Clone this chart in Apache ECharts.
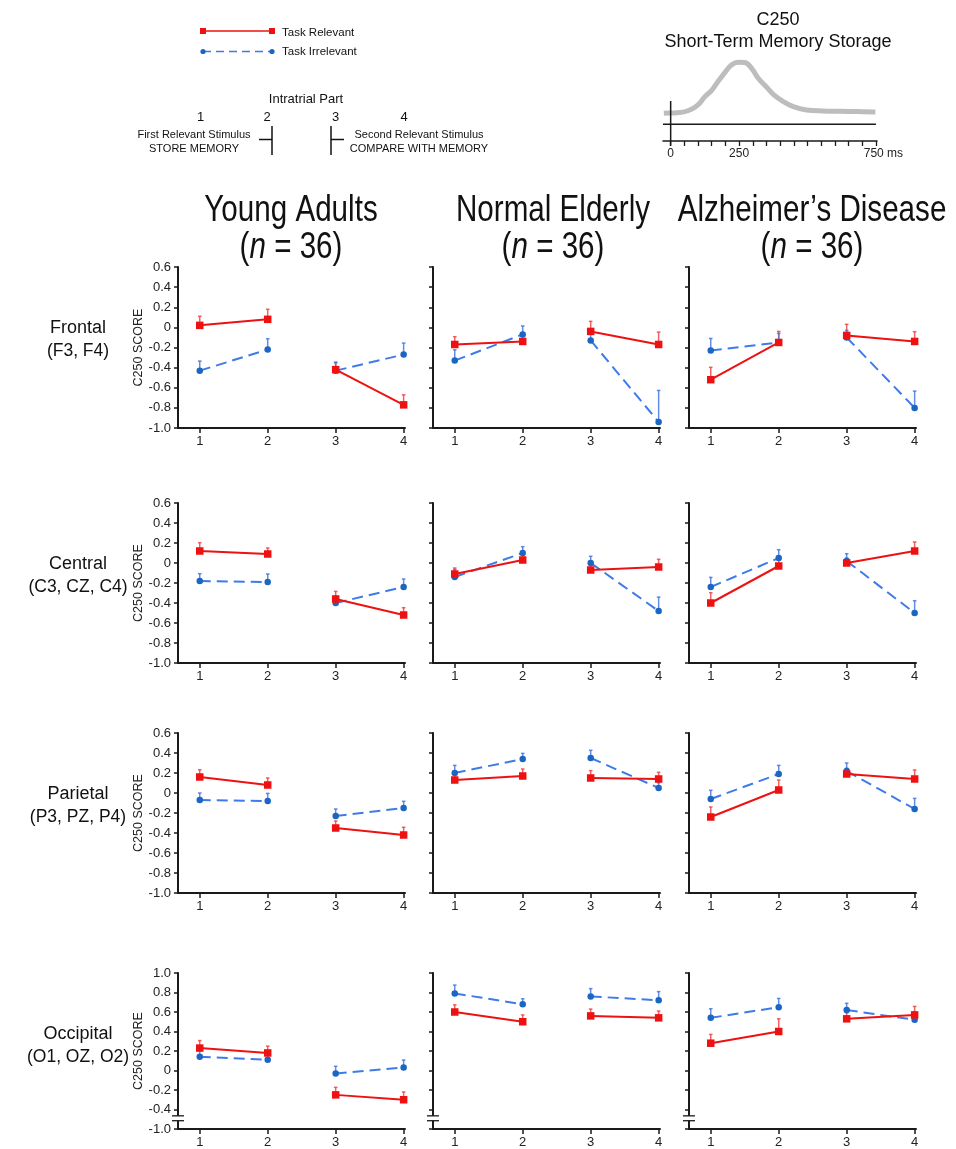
<!DOCTYPE html>
<html>
<head>
<meta charset="utf-8">
<script src="https://cdn.jsdelivr.net/npm/echarts@6/dist/echarts.min.js"></script>
<style>
html,body{margin:0;padding:0;background:#fff;}
#chart{width:956px;height:1149px;}
</style>
</head>
<body>
<div id="chart"></div>
<script>
// ---------------- DATA ----------------
const parts = [1, 2, 3, 4];
const groupNames = ['Young Adults', 'Normal Elderly', 'Alzheimer\u2019s Disease'];
const groupN = [36, 36, 36];
const regionNames = ['Frontal', 'Central', 'Parietal', 'Occipital'];
const regionSites = ['(F3, F4)', '(C3, CZ, C4)', '(P3, PZ, P4)', '(O1, OZ, O2)'];
const legendNames = ['Task Relevant', 'Task Irrelevant'];

// means per group [young, elderly, AD], each over intratrial parts 1-4
const frontalRelMean = [[0.02, 0.08, -0.42, -0.77], [-0.17, -0.14, -0.04, -0.17], [-0.52, -0.15, -0.08, -0.14]];
const frontalRelErr  = [[0.09, 0.10, 0.075, 0.10], [0.077, 0.06, 0.10, 0.123], [0.123, 0.11, 0.11, 0.097]];
const frontalIrrMean = [[-0.43, -0.22, -0.43, -0.27], [-0.33, -0.07, -0.13, -0.94], [-0.23, -0.15, -0.10, -0.80]];
const frontalIrrErr  = [[0.095, 0.107, 0.078, 0.114], [0.107, 0.084, 0.09, 0.313], [0.12, 0.09, 0.07, 0.167]];

const centralRelMean = [[0.12, 0.09, -0.36, -0.52], [-0.11, 0.03, -0.07, -0.04], [-0.40, -0.03, 0.00, 0.12]];
const centralRelErr  = [[0.083, 0.06, 0.076, 0.073], [0.06, 0.05, 0.06, 0.077], [0.103, 0.06, 0.05, 0.09]];
const centralIrrMean = [[-0.18, -0.19, -0.40, -0.24], [-0.14, 0.10, 0.00, -0.48], [-0.24, 0.05, 0.02, -0.50]];
const centralIrrErr  = [[0.073, 0.08, 0.07, 0.08], [0.074, 0.063, 0.067, 0.139], [0.096, 0.083, 0.073, 0.123]];

const parietalRelMean = [[0.16, 0.08, -0.35, -0.42], [0.13, 0.17, 0.15, 0.14], [-0.24, 0.03, 0.19, 0.14]];
const parietalRelErr  = [[0.073, 0.07, 0.07, 0.077], [0.066, 0.07, 0.074, 0.067], [0.10, 0.10, 0.057, 0.09]];
const parietalIrrMean = [[-0.07, -0.08, -0.23, -0.15], [0.20, 0.34, 0.35, 0.05], [-0.06, 0.19, 0.22, -0.16]];
const parietalIrrErr  = [[0.07, 0.076, 0.07, 0.067], [0.076, 0.056, 0.077, 0.053], [0.087, 0.086, 0.08, 0.106]];

const occipitalRelMean = [[0.23, 0.18, -0.25, -0.30], [0.60, 0.50, 0.56, 0.54], [0.28, 0.40, 0.53, 0.57]];
const occipitalRelErr  = [[0.077, 0.07, 0.077, 0.08], [0.073, 0.07, 0.07, 0.07], [0.09, 0.13, 0.063, 0.087]];
const occipitalIrrMean = [[0.14, 0.11, -0.03, 0.03], [0.79, 0.68, 0.76, 0.72], [0.54, 0.65, 0.62, 0.52]];
const occipitalIrrErr  = [[0.077, 0.06, 0.073, 0.077], [0.086, 0.056, 0.08, 0.089], [0.093, 0.089, 0.069, 0.083]];

// inset C250 waveform (time ms, amplitude arbitrary units)
const waveTimes = [-25, 0, 33, 60, 88, 106, 125, 149, 173, 198, 222, 247, 271, 296, 320, 351, 375, 412, 448, 497, 558, 619, 680, 748];
const waveAmp   = [11, 11.3, 11.7, 13.3, 17, 21, 27.7, 33.7, 42.7, 51.7, 59.3, 62, 61.7, 56, 46, 37, 30, 22.7, 17.7, 14.3, 13.3, 13, 12.7, 12.3];
const timeTicks = [0, 50, 100, 150, 200, 250, 300, 350, 400, 450, 500, 550, 600, 650, 700, 750];
const timeLabels = [0, 250, 750];
const scoreBreak = [-0.465, -0.515];

// ---------------- BUILD ----------------
const regionData = [
  [frontalRelMean, frontalRelErr, frontalIrrMean, frontalIrrErr],
  [centralRelMean, centralRelErr, centralIrrMean, centralIrrErr],
  [parietalRelMean, parietalRelErr, parietalIrrMean, parietalIrrErr],
  [occipitalRelMean, occipitalRelErr, occipitalIrrMean, occipitalIrrErr]
];

const FONT = '"Liberation Sans", Arial, Helvetica, sans-serif';
const RED = '#ee1111';
const BLUE_LINE = '#3f7be8';
const BLUE_DOT = '#1a66c2';
const RED_ERR = 'rgba(240,70,70,0.85)';
const BLUE_ERR = 'rgba(70,120,225,0.85)';

const colLeft = [178, 433, 689];
const gridW = 227;
const rowTop = [267, 503, 733, 973];
const rowH = [161, 160, 160, 160];
const XMIN = 0.68, XMAX = 4.02;
const titleCenters = [291, 553, 812];

const grids = [], xAxes = [], yAxes = [], series = [];

function fmtTick(v, occ) {
  const r = Math.round(v * 10) / 10;
  if (occ && r <= -0.6) return '-1.0';
  if (r === 0) return '0';
  return r.toFixed(1);
}

let gi = 0;
for (let r = 0; r < 4; r++) {
  const occ = r === 3;
  for (let c = 0; c < 3; c++) {
    grids.push({ left: colLeft[c], top: rowTop[r], width: gridW, height: rowH[r] });
    xAxes.push({
      gridIndex: gi, type: 'value', min: XMIN, max: XMAX,
      axisLine: { onZero: false, lineStyle: { color: '#1a1a1a', width: 2 } },
      axisTick: { show: true, customValues: parts, length: 5, lineStyle: { color: '#1a1a1a', width: 1.5 } },
      axisLabel: { customValues: parts, fontSize: 13, fontFamily: FONT, color: '#222', margin: 7 },
      splitLine: { show: false }
    });
    yAxes.push({
      gridIndex: gi, type: 'value',
      min: occ ? -0.6 : -1.0, max: occ ? 1.0 : 0.6, interval: 0.2,
      name: c === 0 ? 'C250 SCORE' : '', nameLocation: 'middle', nameGap: 33,
      nameTextStyle: { fontSize: 12.5, fontFamily: FONT, color: '#222' },
      axisLine: { show: true, onZero: false, lineStyle: { color: '#1a1a1a', width: 2 } },
      axisTick: { show: true, length: 4, lineStyle: { color: '#1a1a1a', width: 1.5 } },
      axisLabel: { show: c === 0, fontSize: 13, fontFamily: FONT, color: '#222', margin: 7,
        formatter: v => fmtTick(v, occ) },
      splitLine: { show: false }
    });
    const [rm, re, im, ie] = regionData[r];
    // error bars
    const ebData = [];
    parts.forEach((p, k) => {
      ebData.push([p, rm[c][k], re[c][k], 0]);
      ebData.push([p, im[c][k], ie[c][k], 1]);
    });
    series.push({
      type: 'custom', xAxisIndex: gi, yAxisIndex: gi, z: 2, silent: true,
      encode: { x: 0, y: 1 },
      data: ebData,
      renderItem: (params, api) => {
        const x = api.value(0), m = api.value(1), e = api.value(2), k = api.value(3);
        const p0 = api.coord([x, m]);
        const p1 = api.coord([x, m + e]);
        const col = k === 0 ? RED_ERR : BLUE_ERR;
        return { type: 'group', children: [
          { type: 'line', shape: { x1: p0[0], y1: p0[1], x2: p1[0], y2: p1[1] }, style: { stroke: col, lineWidth: 1.5 } },
          { type: 'line', shape: { x1: p1[0] - 1.8, y1: p1[1], x2: p1[0] + 1.8, y2: p1[1] }, style: { stroke: col, lineWidth: 1.5 } }
        ] };
      }
    });
    // lines: segments 1-2 and 3-4
    [[0, 1], [2, 3]].forEach(seg => {
      series.push({
        type: 'line', name: legendNames[1], xAxisIndex: gi, yAxisIndex: gi, z: 3,
        data: seg.map(k => [parts[k], im[c][k]]),
        symbol: 'circle', symbolSize: 6.5, showSymbol: true,
        itemStyle: { color: BLUE_DOT },
        lineStyle: { color: BLUE_LINE, width: 2, type: [11, 6] },
        animation: false, silent: true
      });
      series.push({
        type: 'line', name: legendNames[0], xAxisIndex: gi, yAxisIndex: gi, z: 4,
        data: seg.map(k => [parts[k], rm[c][k]]),
        symbol: 'rect', symbolSize: 7.5, showSymbol: true,
        itemStyle: { color: RED },
        lineStyle: { color: RED, width: 2 },
        animation: false, silent: true
      });
    });
    if (occ) {
      series.push({
        type: 'custom', xAxisIndex: gi, yAxisIndex: gi, z: 6, silent: true,
        encode: { x: 0, y: 1 },
        data: [[XMIN, scoreBreak[0], scoreBreak[1]]],
        renderItem: (params, api) => {
          const a = api.coord([api.value(0), api.value(1)]);
          const b = api.coord([api.value(0), api.value(2)]);
          return { type: 'group', children: [
            { type: 'rect', shape: { x: a[0] - 2, y: a[1], width: 4, height: b[1] - a[1] }, style: { fill: '#fff' } },
            { type: 'line', shape: { x1: a[0] - 6, y1: a[1], x2: a[0] + 6, y2: a[1] }, style: { stroke: '#1a1a1a', lineWidth: 1.3 } },
            { type: 'line', shape: { x1: b[0] - 6, y1: b[1], x2: b[0] + 6, y2: b[1] }, style: { stroke: '#1a1a1a', lineWidth: 1.3 } }
          ] };
        }
      });
    }
    gi++;
  }
}

// inset waveform grid
const insetIdx = gi;
grids.push({ left: 663, top: 41, width: 214, height: 100 });
xAxes.push({
  gridIndex: insetIdx, type: 'value', min: -28, max: 754,
  axisLine: { onZero: false, lineStyle: { color: '#1a1a1a', width: 1.5 } },
  axisTick: { show: true, customValues: timeTicks, length: 5, lineStyle: { color: '#1a1a1a', width: 1.3 } },
  axisLabel: {
    customValues: timeLabels, fontSize: 12, fontFamily: FONT, color: '#222', margin: 7,
    formatter: v => v === 750 ? '{r|750 ms}' : String(v),
    rich: { r: { fontSize: 12, fontFamily: FONT, color: '#222', padding: [0, 0, 0, 15] } }
  },
  splitLine: { show: false }
});
yAxes.push({ gridIndex: insetIdx, type: 'value', min: -16.7, max: 83.3, show: false });
series.push({
  type: 'line', xAxisIndex: insetIdx, yAxisIndex: insetIdx, z: 2,
  data: waveTimes.map((t, k) => [t, waveAmp[k]]),
  smooth: 0.4, showSymbol: false, symbol: 'none',
  lineStyle: { color: '#bdbdbd', width: 5 }, animation: false, silent: true
});
series.push({
  type: 'custom', xAxisIndex: insetIdx, yAxisIndex: insetIdx, z: 3, silent: true,
  encode: { x: 0, y: 1 },
  data: [[0, 0]],
  renderItem: (params, api) => {
    const o = api.coord([0, 0]);
    const l = api.coord([-28, 0]);
    const rr = api.coord([750, 0]);
    const top = api.coord([0, 23.3]);
    const bot = api.coord([0, -21.3]);
    return { type: 'group', children: [
      { type: 'line', shape: { x1: l[0], y1: o[1], x2: rr[0], y2: o[1] }, style: { stroke: '#1a1a1a', lineWidth: 1.5 } },
      { type: 'line', shape: { x1: o[0], y1: top[1], x2: o[0], y2: bot[1] }, style: { stroke: '#1a1a1a', lineWidth: 1.5 } }
    ] };
  }
});

// ---------------- GRAPHIC TEXT ----------------
function txt(x, y, text, size, align, extra) {
  return Object.assign({
    type: 'text', x: x, y: y, silent: true,
    style: Object.assign({
      text: text, fontSize: size, fontFamily: FONT, fill: '#111',
      align: align || 'center', textAlign: align || 'center',
      verticalAlign: 'middle', textVerticalAlign: 'middle'
    }, (extra && extra.style) || {})
  }, (extra && extra.el) || {});
}

const graphics = [];
// group titles
groupNames.forEach((g, c) => {
  const cx = titleCenters[c];
  graphics.push(txt(cx, 211, g, 37, 'center', { el: { scaleX: 0.8 } }));
  graphics.push(txt(cx, 248, '({i|n} = ' + groupN[c] + ')', 37, 'center', {
    el: { scaleX: 0.8 },
    style: { rich: { i: { fontSize: 37, fontFamily: FONT, fontStyle: 'italic', fill: '#111' } } }
  }));
});
// region labels
regionNames.forEach((n, r) => {
  graphics.push(txt(78, rowTop[r] + 61, n, 18));
  graphics.push(txt(78, rowTop[r] + 84, regionSites[r], 17.5));
});
// legend
graphics.push({ type: 'line', silent: true, shape: { x1: 203, y1: 31, x2: 272, y2: 31 }, style: { stroke: RED, lineWidth: 1.5 } });
graphics.push({ type: 'rect', silent: true, shape: { x: 200, y: 28, width: 6, height: 6 }, style: { fill: RED } });
graphics.push({ type: 'rect', silent: true, shape: { x: 269, y: 28, width: 6, height: 6 }, style: { fill: RED } });
graphics.push(txt(282, 33, legendNames[0], 11.5, 'left'));
graphics.push({ type: 'line', silent: true, shape: { x1: 203, y1: 51.5, x2: 272, y2: 51.5 }, style: { stroke: BLUE_LINE, lineWidth: 1.5, lineDash: [8, 5] } });
graphics.push({ type: 'circle', silent: true, shape: { cx: 203, cy: 51.5, r: 2.6 }, style: { fill: BLUE_DOT } });
graphics.push({ type: 'circle', silent: true, shape: { cx: 272, cy: 51.5, r: 2.6 }, style: { fill: BLUE_DOT } });
graphics.push(txt(282, 52, legendNames[1], 11.5, 'left'));
// intratrial diagram
graphics.push(txt(306, 99, 'Intratrial Part', 13));
[200.5, 267, 335.5, 404].forEach((x, k) => graphics.push(txt(x, 117, String(parts[k]), 13)));
graphics.push(txt(194, 135, 'First Relevant Stimulus', 11));
graphics.push(txt(194, 149, 'STORE MEMORY', 11));
graphics.push(txt(419, 135, 'Second Relevant Stimulus', 11));
graphics.push(txt(419, 149, 'COMPARE WITH MEMORY', 11));
graphics.push({ type: 'line', silent: true, shape: { x1: 259, y1: 139.5, x2: 272, y2: 139.5 }, style: { stroke: '#111', lineWidth: 1.5 } });
graphics.push({ type: 'line', silent: true, shape: { x1: 272, y1: 126, x2: 272, y2: 155 }, style: { stroke: '#111', lineWidth: 1.5 } });
graphics.push({ type: 'line', silent: true, shape: { x1: 331, y1: 126, x2: 331, y2: 155 }, style: { stroke: '#111', lineWidth: 1.5 } });
graphics.push({ type: 'line', silent: true, shape: { x1: 331, y1: 139.5, x2: 344, y2: 139.5 }, style: { stroke: '#111', lineWidth: 1.5 } });
// inset titles
graphics.push(txt(778, 20, 'C250', 18));
graphics.push(txt(778, 42, 'Short-Term Memory Storage', 18));

const chart = echarts.init(document.getElementById('chart'), null, { renderer: 'canvas' });
chart.setOption({
  animation: false,
  backgroundColor: '#fff',
  textStyle: { fontFamily: FONT },
  grid: grids,
  xAxis: xAxes,
  yAxis: yAxes,
  series: series,
  graphic: graphics
});
</script>
</body>
</html>
